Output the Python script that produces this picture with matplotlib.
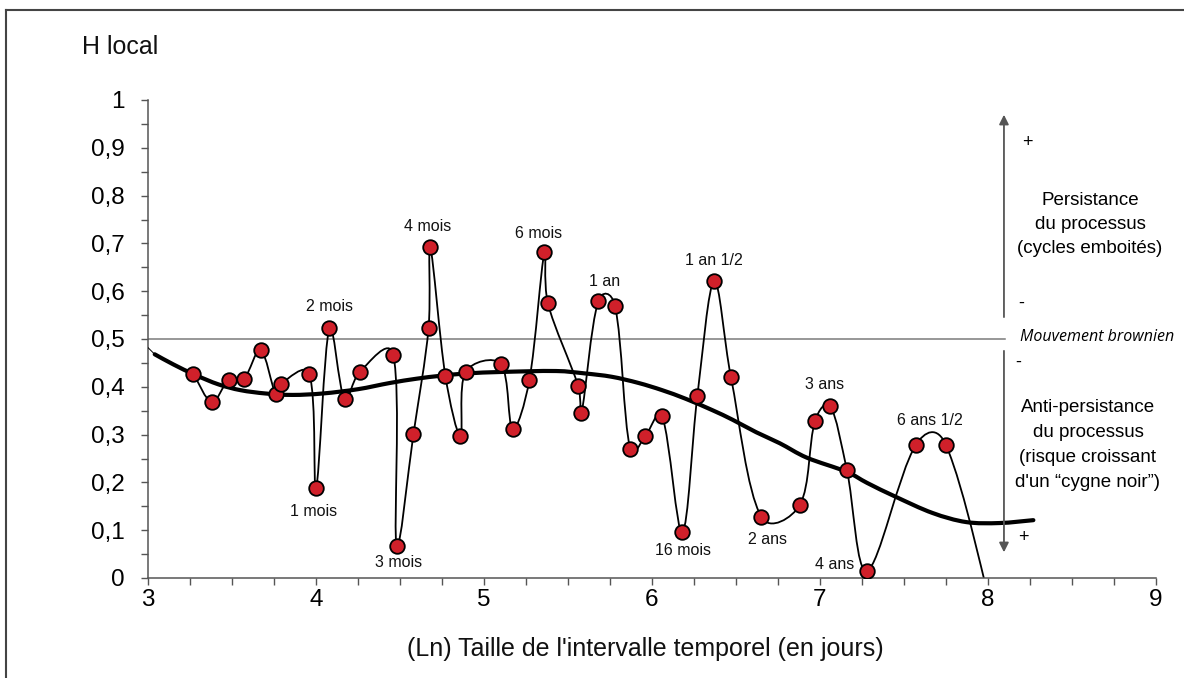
import numpy as np
import matplotlib
matplotlib.use("Agg")
import matplotlib.pyplot as plt
from matplotlib.path import Path
from matplotlib.patches import PathPatch
from matplotlib.lines import Line2D

SANS = ["Liberation Sans Narrow", "Liberation Sans", "DejaVu Sans"]
plt.rcParams["font.family"] = SANS

# H local per ln(interval)
ln_size = [3.27, 3.38, 3.48, 3.57, 3.67, 3.76, 3.79, 3.96, 4.00, 4.08,
           4.17, 4.26, 4.46, 4.48, 4.58, 4.67, 4.68, 4.77, 4.86, 4.89,
           5.10, 5.17, 5.27, 5.36, 5.38, 5.56, 5.58, 5.68, 5.78, 5.87,
           5.96, 6.06, 6.18, 6.27, 6.37, 6.47, 6.65, 6.88, 6.97, 7.06,
           7.16, 7.28, 7.57, 7.75, 8.06]
h_local = [0.427, 0.368, 0.414, 0.416, 0.477, 0.385, 0.406, 0.427, 0.188, 0.523,
           0.374, 0.431, 0.467, 0.067, 0.301, 0.523, 0.692, 0.423, 0.297, 0.431,
           0.448, 0.312, 0.414, 0.682, 0.575, 0.402, 0.345, 0.579, 0.569, 0.270,
           0.297, 0.339, 0.096, 0.381, 0.621, 0.420, 0.128, 0.153, 0.328, 0.360,
           0.226, 0.015, 0.278, 0.278, -0.12]

# smoothed trend (thick line)
trend_x = [3.04, 3.15, 3.28, 3.42, 3.55, 3.70, 3.86, 4.04, 4.25, 4.44,
           4.60, 4.74, 4.90, 5.10, 5.43, 5.60, 5.76, 5.92, 6.06, 6.20,
           6.36, 6.48, 6.62, 6.76, 6.92, 7.16, 7.28, 7.45, 7.67, 7.87,
           8.07, 8.27]
trend_y = [0.468, 0.447, 0.425, 0.405, 0.393, 0.386, 0.383, 0.386, 0.395, 0.408,
           0.417, 0.423, 0.428, 0.431, 0.433, 0.428, 0.421, 0.408, 0.393, 0.375,
           0.351, 0.331, 0.305, 0.282, 0.252, 0.222, 0.199, 0.170, 0.136, 0.117,
           0.115, 0.121]

# labelled points: (index in series, text, offset in pixels)
labels = [(9, "2 mois", (0, 22)), (16, "4 mois", (-3, 21)), (23, "6 mois", (-6, 19)),
          (27, "1 an", (6, 20)), (34, "1 an 1/2", (0, 21)), (8, "1 mois", (-2, -23)),
          (13, "3 mois", (2, -17)), (32, "16 mois", (1, -18)), (36, "2 ans", (6, -23)),
          (39, "3 ans", (-6, 21)), (41, "4 ans", (-32, 6)), (42, "6 ans 1/2", (14, 25))]

# pixels per data unit, used only to weigh the smoothing handles
SX, SY = 168.0, 478.0


def smooth_path(xs, ys):
    # spreadsheet-like smoothed line: bezier handles along the neighbour chord,
    # half plain catmull-rom, half shortened on the side of the shorter segment
    p = np.column_stack([xs, ys]).astype(float)
    n = len(p)
    scale = np.array([SX, SY])
    d = np.hypot(*((np.diff(p, axis=0) * scale).T))
    h_in = np.zeros_like(p)
    h_out = np.zeros_like(p)
    for i in range(n):
        a = p[max(i - 1, 0)]
        b = p[min(i + 1, n - 1)]
        t = b - a
        dp = d[i - 1] if i > 0 else 0.0
        dn = d[i] if i < n - 1 else 0.0
        tot = dp + dn
        if tot == 0:
            continue
        h_out[i] = 0.5 * t / 6 + 0.5 * t * dn / tot / 3
        h_in[i] = 0.5 * t / 6 + 0.5 * t * dp / tot / 3
    verts = [p[0]]
    codes = [Path.MOVETO]
    for i in range(n - 1):
        verts += [p[i] + h_out[i], p[i + 1] - h_in[i + 1], p[i + 1]]
        codes += [Path.CURVE4] * 3
    return Path(verts, codes)


fig = plt.figure(figsize=(11.84, 6.78), dpi=100)
ax = fig.add_axes([148 / 1184, 100 / 678, 1008 / 1184, 478 / 678])

ax.plot([3, 8.10], [0.5, 0.5], color="#7a7a7a", lw=1.1, zorder=1)

ax.add_patch(PathPatch(smooth_path(ln_size, h_local), fill=False,
                       edgecolor="black", lw=1.3, zorder=2))
ax.plot([3.0, 3.04], [0.482, 0.468], color="black", lw=0.7, zorder=3)
ax.add_patch(PathPatch(smooth_path(trend_x, trend_y), fill=False,
                       edgecolor="black", lw=3.0, capstyle="round",
                       joinstyle="round", zorder=3))
ax.plot(ln_size, h_local, "o", ms=10.5, mfc="#d0202a", mec="black",
        mew=1.3, zorder=4)

for i, txt, off in labels:
    ax.annotate(txt, xy=(ln_size[i], h_local[i]), xytext=off,
                textcoords="offset pixels", ha="center", va="center",
                fontsize=11.5, color="#111111")

ax.set_xlim(3, 9)
ax.set_ylim(0, 1)
ax.set_xticks(range(3, 10))
ax.set_xticks(np.arange(3, 9.01, 0.25), minor=True)
ax.set_yticks(np.arange(0, 1.01, 0.1))
ax.set_yticks(np.arange(0, 1.001, 0.05), minor=True)
ax.set_yticklabels(["0"] + [f"0,{k}" for k in range(1, 10)] + ["1"])
for s in ["top", "right"]:
    ax.spines[s].set_visible(False)
for s in ["left", "bottom"]:
    ax.spines[s].set_color("#555555")
    ax.spines[s].set_linewidth(1.1)
ax.tick_params(which="both", direction="out", length=5, width=1, color="#555555")
ax.tick_params(axis="y", which="major", pad=12, labelsize=17.5)
ax.tick_params(axis="x", which="major", pad=3, labelsize=17.5)

ax.set_xlabel("(Ln) Taille de l'intervalle temporel (en jours)",
              family=["Liberation Sans", "DejaVu Sans"], fontsize=18,
              color="#111111")
ax.xaxis.set_label_coords((645 - 148) / 1008, -(637 - 578) / 478)
fig.text(82 / 1184, 1 - 47 / 678, "H local", family=["Liberation Sans", "DejaVu Sans"],
         fontsize=18, va="center", ha="left", color="#111111")

# right-hand legend arrows and notes
ax.annotate("", xy=(8.095, 0.975), xytext=(8.095, 0.54),
            arrowprops=dict(arrowstyle="-|>", color="#555555", lw=1.3,
                            mutation_scale=14), annotation_clip=False)
ax.annotate("", xy=(8.095, 0.048), xytext=(8.095, 0.481),
            arrowprops=dict(arrowstyle="-|>", color="#555555", lw=1.3,
                            mutation_scale=14), annotation_clip=False)
sign_kw = dict(ha="center", va="center", fontsize=13, clip_on=False,
               family=["Liberation Sans", "DejaVu Sans"])
ax.text(8.232, 0.912, "+", **sign_kw)
ax.text(8.20, 0.575, "-", **sign_kw)
ax.text(8.18, 0.452, "-", **sign_kw)
ax.text(8.21, 0.084, "+", **sign_kw)

note_kw = dict(ha="center", va="center", fontsize=13.5,
               clip_on=False, family=SANS)
ax.text(8.607, 0.740, "Persistance\ndu processus\n(cycles emboités)",
        linespacing=1.55, **note_kw)
ax.text(8.595, 0.278,
        "Anti-persistance\ndu processus\n(risque croissant\nd'un \u201ccygne noir\u201d)",
        linespacing=1.6, **note_kw)
ax.text(8.65, 0.504, "Mouvement brownien", ha="center", va="center",
        fontsize=11.5, style="italic", clip_on=False,
        family=["Open Sans", "DejaVu Sans"])

# outer frame
fig.add_artist(Line2D([6 / 1184, 1], [1 - 10 / 678, 1 - 10 / 678],
                      color="#444444", lw=1.5))
fig.add_artist(Line2D([6 / 1184, 6 / 1184], [0, 1 - 10 / 678],
                      color="#444444", lw=1.5))

fig.savefig("out.png", dpi=100)
